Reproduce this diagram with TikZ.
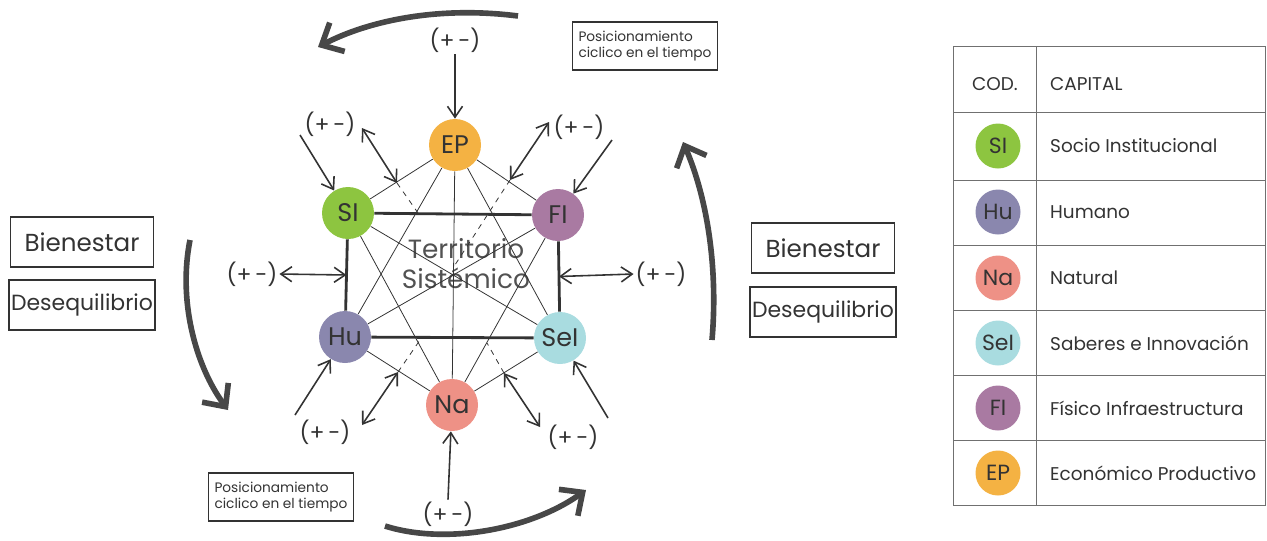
\documentclass[tikz,border=0pt]{standalone}
\usepackage{fontspec}
\setmainfont{Poppins}
\usepackage{tikz}
\usetikzlibrary{arrows,arrows.meta,calc}

\definecolor{ink}{HTML}{333333}
\definecolor{colSI}{HTML}{8DC540}
\definecolor{colHu}{HTML}{8A87AE}
\definecolor{colNa}{HTML}{EE9186}
\definecolor{colSeI}{HTML}{A9DCE0}
\definecolor{colFI}{HTML}{A97AA2}
\definecolor{colEP}{HTML}{F4B243}

\tikzset{
  capital/.style={circle, minimum size=10.4mm, inner sep=0pt, text=ink,
    font=\fontsize{14.5}{14.5}\selectfont},
  pm/.style={text=ink, inner sep=1pt, font=\fontsize{12.5}{12.5}\selectfont},
  thin link/.style={draw=ink, line width=0.45pt},
  thick link/.style={draw=ink, line width=1.6pt},
  feed/.style={draw=ink, line width=0.9pt, -{Straight Barb[length=2.2mm,width=3mm]}},
  twoway/.style={draw=ink, line width=0.9pt, {Straight Barb[length=2.2mm,width=3mm]}-{Straight Barb[length=2.2mm,width=3mm]}},
  cycle arrow/.style={draw=ink!90, line width=3.2pt, -{Straight Barb[length=3.5mm,width=6.5mm]}},
  tag/.style={draw=ink, line width=1pt, minimum width=28.6mm, minimum height=10mm,
    inner sep=1pt, text=ink, font=\fontsize{14}{14}\selectfont},
  posbox/.style={draw=ink, line width=1pt, minimum width=29mm, minimum height=9.6mm,
    inner sep=1.2mm, text=ink, align=left, font=\fontsize{7.8}{9.2}\selectfont},
  legtext/.style={text=ink, anchor=west, font=\fontsize{10.5}{10.5}\selectfont},
}

\begin{document}
\begin{tikzpicture}[x=0.2mm, y=-0.2mm]

\useasboundingbox (0,0) rectangle (1267,540);

% central text
\node[text=ink!85, align=center, font=\fontsize{15}{17}\selectfont] (terr) at (466,264) {Territorio\\Sistémico};

% capitals
\node[capital, fill=colEP]  (EP)  at (455,145) {EP};
\node[capital, fill=colSI]  (SI)  at (348,213) {SI};
\node[capital, fill=colFI]  (FI)  at (558,215) {FI};
\node[capital, fill=colHu]  (Hu)  at (345,337) {Hu};
\node[capital, fill=colSeI] (SeI) at (560,338) {SeI};
\node[capital, fill=colNa]  (Na)  at (452,405) {Na};

\foreach \a/\b in {EP/SI, EP/FI, EP/Hu, EP/SeI, EP/Na, SI/SeI, SI/Na, FI/Hu, FI/Na, Hu/Na, SeI/Na}
    \draw[thin link] (\a) -- (\b);

\foreach \a/\b in {SI/FI, FI/SeI, SeI/Hu, Hu/SI}
    \draw[thick link] (\a) -- (\b);

% (+ -) labels
\node[pm] (pmT)  at (455,40)  {(+\,-)};
\node[pm] (pmTL) at (330,124) {(+\,-)};
\node[pm] (pmTR) at (579,127) {(+\,-)};
\node[pm] (pmL)  at (252,274) {(+\,-)};
\node[pm] (pmR)  at (661,274) {(+\,-)};
\node[pm] (pmBL) at (325,432) {(+\,-)};
\node[pm] (pmBR) at (573,437) {(+\,-)};
\node[pm] (pmB)  at (448,514) {(+\,-)};

\coordinate (lft) at ($(SI)!0.5!(Hu)$);
\coordinate (rgt) at ($(FI)!0.5!(SeI)$);

% single arrows
\draw[feed] (pmT.south) -- (EP);
\draw[feed] (pmB.north) -- (Na);
\coordinate (inTL) at (300,135);
\coordinate (inTR) at (612,140);
\coordinate (inBL) at (295,415);
\coordinate (inBR) at (608,418);
\draw[feed] (inTL) -- (SI);
\draw[feed] (inTR) -- (FI);
\draw[feed] (inBL) -- (Hu);
\draw[feed] (inBR) -- (SeI);

% double arrows
\draw[twoway] (pmL.east) -- (lft);
\draw[twoway] (rgt) -- (pmR.west);

\coordinate (oTL) at (362,128);  \coordinate (hTL) at (397,183);  \coordinate (eTL) at (418,213);
\coordinate (oTR) at (549,122);  \coordinate (hTR) at (510,180);  \coordinate (eTR) at (453,268);
\coordinate (oBL) at (362,425);  \coordinate (hBL) at (398,372);  \coordinate (eBL) at (420,340);
\coordinate (oBR) at (540,427);  \coordinate (hBR) at (504,373);  \coordinate (eBR) at (487,343);

\foreach \i in {TL,TR,BL,BR} {
    \draw[twoway] (o\i) -- (h\i);
    \draw[draw=ink, line width=0.45pt, dashed] (h\i) -- (e\i);
}

% cycle arrows
\coordinate (cT1) at (518,16);  \coordinate (cT2) at (318,47);
\coordinate (cR1) at (712,340); \coordinate (cR2) at (683,142);
\coordinate (cL1) at (190,240); \coordinate (cL2) at (228,410);
\coordinate (cB1) at (385,526); \coordinate (cB2) at (586,490);
\draw[cycle arrow] (cT1) .. controls (440,6) and (370,20) .. (cT2);
\draw[cycle arrow] (cR1) .. controls (718,270) and (708,200) .. (cR2);
\draw[cycle arrow] (cL1) .. controls (178,300) and (195,365) .. (cL2);
\draw[cycle arrow] (cB1) .. controls (445,545) and (530,530) .. (cB2);

% boxes
\node[posbox] (posT) at (645,46)  {Posicionamiento\\ciclico en el tiempo};
\node[posbox] (posB) at (281,497) {Posicionamiento\\ciclico en el tiempo};

\node[tag] (bienL) at (82,242)  {Bienestar};
\node[tag, font=\fontsize{12.5}{12.5}\selectfont] (deseL) at (82,305)  {Desequilibrio};
\node[tag] (bienR) at (823,248) {Bienestar};
\node[tag, font=\fontsize{12.5}{12.5}\selectfont] (deseR) at (823,312) {Desequilibrio};

% legend
\draw[ink!70, line width=0.5pt] (953,46) rectangle (1265,505);
\draw[ink!70, line width=0.5pt] (1036,46) -- (1036,505);
\foreach \y in {112,180,245,310,375,440}
    \draw[ink!70, line width=0.5pt] (953,\y) -- (1265,\y);

\node[text=ink, font=\fontsize{10.5}{10.5}\selectfont] (hcod) at (995,84) {COD.};
\node[legtext] (hcap) at (1044,84) {CAPITAL};

\foreach \y/\c/\n/\col in {146/SI/Socio Institucional/colSI,
                            212/Hu/Humano/colHu,
                            278/Na/Natural/colNa,
                            343/SeI/Saberes e Innovación/colSeI,
                            408/FI/Físico Infraestructura/colFI,
                            473/EP/Económico Productivo/colEP}
{
    \node[capital, minimum size=9mm, fill=\col, font=\fontsize{12.5}{12.5}\selectfont] (leg\c) at (998,\y) {\c};
    \node[legtext] (name\c) at (1044,\y) {\n};
}

\end{tikzpicture}
\end{document}
